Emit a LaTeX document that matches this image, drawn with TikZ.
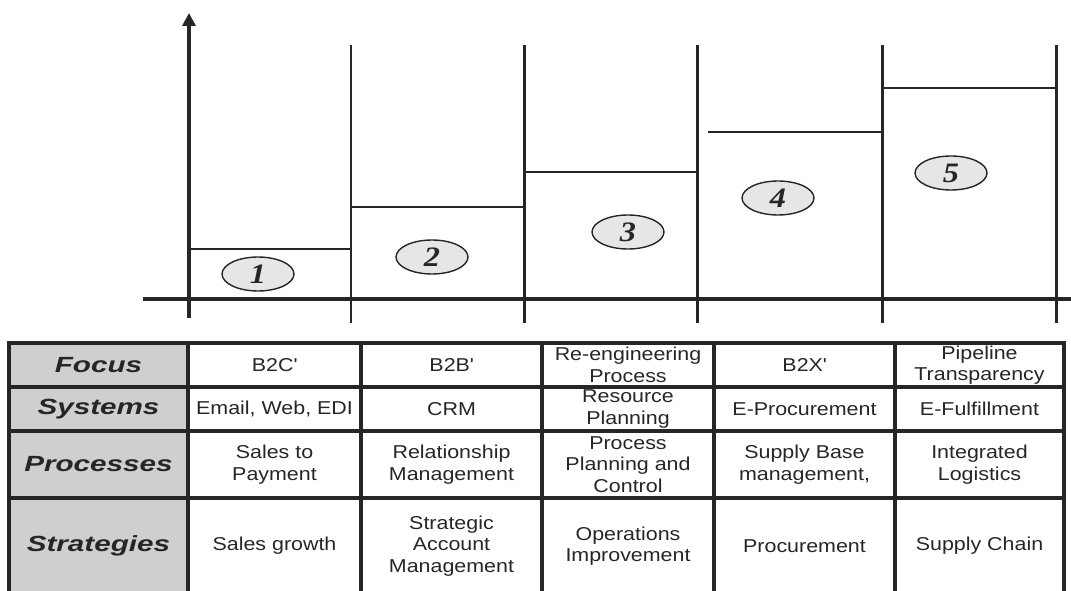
\documentclass[tikz,border=0pt]{standalone}
\usepackage{fontspec}
\setmainfont{Liberation Sans}[FakeStretch=1.15]
\newfontfamily\headfont{Liberation Sans}[FakeStretch=1.35]
\newfontfamily\numfont{Liberation Serif}[FakeStretch=1.15]
\usepackage{tikz}
\usetikzlibrary{arrows.meta, shapes.geometric}

\definecolor{ink}{HTML}{262626}
\definecolor{headgray}{HTML}{CFCFCF}
\definecolor{ovalgray}{HTML}{E6E6E6}

\tikzset{
  stage/.style={ellipse, draw=ink, line width=0.8pt, fill=ovalgray,
    minimum width=1.44cm, minimum height=0.68cm, inner sep=0pt, text=ink,
    font=\numfont\bfseries\itshape\fontsize{16}{16}\selectfont},
  grid line/.style={draw=ink, line width=1.7pt},
  table line/.style={draw=ink, line width=1.9pt},
  cell/.style={align=center, text=ink, font=\fontsize{10.6}{12.2}\selectfont},
  headcell/.style={text=ink, font=\headfont\bfseries\itshape\fontsize{12.5}{14}\selectfont},
}

\begin{document}
\begin{tikzpicture}
\useasboundingbox (0,0) rectangle (21.42,11.8);

% axes
\draw[ink, line width=1.9pt] (2.86,5.82) -- (21.5,5.82);
\draw[ink, line width=2.8pt, -{Triangle[length=0.26cm,width=0.26cm]}] (3.78,5.44) -- (3.78,11.54);

% stage columns and their levels
\foreach \x in {7.02,10.48,13.94,17.64,21.12}
  \draw[grid line] (\x,5.34) -- (\x,10.9);
\foreach \a/\b/\y in {3.78/7.02/6.82, 7.02/10.48/7.66, 10.48/13.94/8.36, 14.16/17.64/9.16, 17.64/21.12/10.04}
  \draw[grid line] (\a,\y) -- (\b,\y);

\node[stage] (s1) at (5.16,6.32) {1};
\node[stage] (s2) at (8.64,6.66) {2};
\node[stage] (s3) at (12.56,7.16) {3};
\node[stage] (s4) at (15.56,7.84) {4};
\node[stage] (s5) at (19.02,8.34) {5};

% table below
\fill[headgray] (0.18,4.94) rectangle (3.76,-0.2);
\draw[table line] (0.18,-0.2) -- (0.18,4.94) -- (21.28,4.94) -- (21.28,-0.2);
\foreach \y in {4.06,3.18,1.84}
  \draw[table line] (0.18,\y) -- (21.28,\y);
\foreach \x in {3.76,7.22,10.84,14.28,17.9}
  \draw[table line] (\x,4.94) -- (\x,-0.2);

\foreach \txt/\y in {Focus/4.5, Systems/3.62, Processes/2.51, Strategies/0.88}
  \node[headcell] (h-\txt) at (1.97,\y) {\txt};

\foreach \x/\fo/\sy/\pr/\st [count=\c] in {
  5.49/{B2C\textquotesingle}/{Email, Web, EDI}/{Sales to\\Payment}/{Sales growth},
  9.03/{B2B\textquotesingle}/{CRM}/{Relationship\\Management}/{Strategic\\Account\\Management},
  12.56/{Re-engineering\\Process}/{Resource\\Planning}/{Process\\Planning and\\Control}/{Operations\\Improvement},
  16.09/{B2X\textquotesingle}/{E-Procurement}/{Supply Base\\management,}/{Procurement},
  19.59/{Pipeline\\Transparency}/{E-Fulfillment}/{Integrated\\Logistics}/{Supply Chain}}
{
  \node[cell] (fo\c) at (\x,4.5) {\fo};
  \node[cell] (sy\c) at (\x,3.62) {\sy};
  \node[cell] (pr\c) at (\x,2.51) {\pr};
  \node[cell] (st\c) at (\x,0.88) {\st};
}
\end{tikzpicture}
\end{document}
